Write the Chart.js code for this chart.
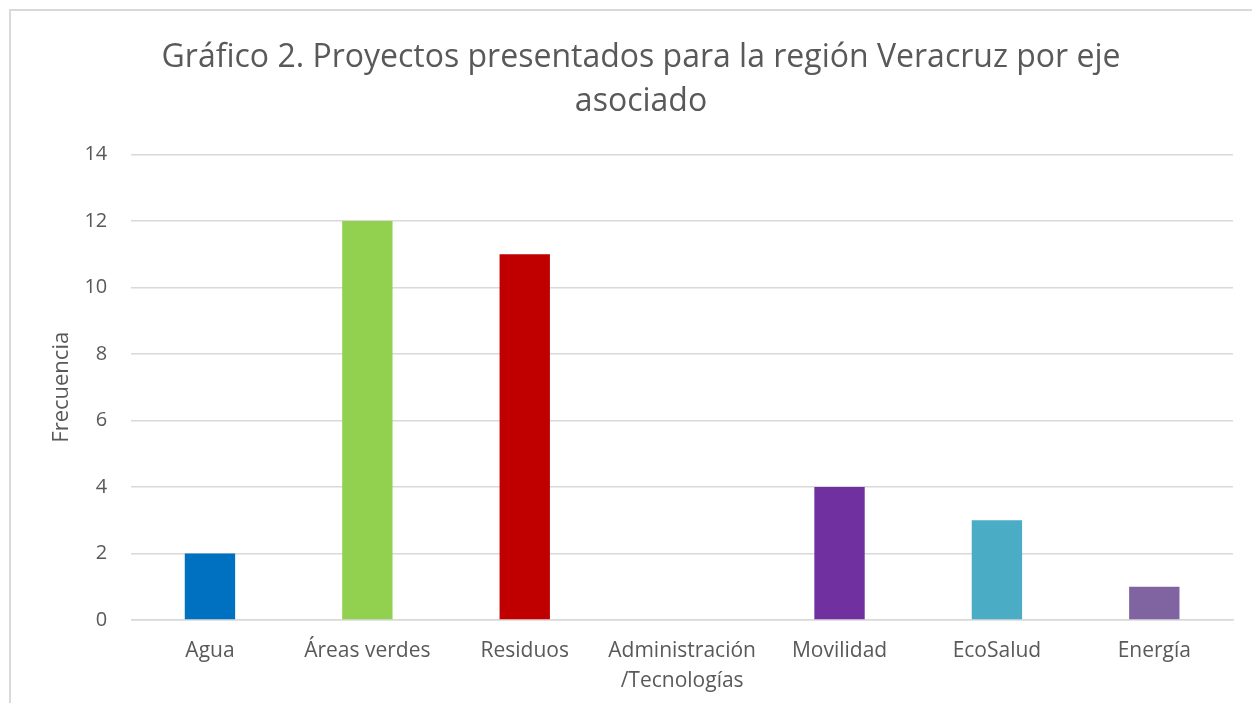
<!DOCTYPE html>
<html>
<head>
<meta charset="utf-8">
<script src="https://cdn.jsdelivr.net/npm/chart.js@4"></script>
<style>
  html, body { margin: 0; padding: 0; background: #fff; overflow: hidden; }
  #box {
    position: absolute; left: 9px; top: 9px; width: 1243px; height: 720px;
    border-left: 2px solid #d9d9d9; border-top: 2px solid #d9d9d9;
  }
</style>
</head>
<body>
<div id="box"><canvas id="chart"></canvas></div>
<script>
/* Gráfico 2 — proyectos por eje, región Veracruz */
var titleLines = ['Gráfico 2. Proyectos presentados para la región Veracruz por eje', 'asociado'];
var categories = ['Agua', 'Áreas verdes', 'Residuos', ['Administración', '/Tecnologías'], 'Movilidad', 'EcoSalud', 'Energía'];
var frecuencia = [2, 12, 11, 0, 4, 3, 1];
var barColors  = ['#0070C0', '#92D050', '#C00000', '#FFC000', '#7030A0', '#4BACC6', '#8064A2'];
var yTicks     = [0, 2, 4, 6, 8, 10, 12, 14];

var grey = '#595959';
Chart.defaults.font.family = '"Open Sans", sans-serif';
Chart.defaults.color = grey;

new Chart(document.getElementById('chart').getContext('2d'), {
    type: 'bar',
    data: {
        labels: categories,
        datasets: [{
            label: 'Frecuencia',
            data: frecuencia,
            backgroundColor: barColors,
            categoryPercentage: 1,
            barPercentage: 0.32
        }]
    },
    options: {
        responsive: true,
        maintainAspectRatio: false,
        animation: false,
        layout: { padding: { left: 38, right: 21, top: 24, bottom: 19 } },
        plugins: {
            legend: { display: false },
            tooltip: { enabled: false },
            title: {
                display: true,
                text: titleLines,
                color: grey,
                font: { size: 32, weight: 'normal', lineHeight: 1.4 },
                padding: { top: 0, bottom: 30 }
            }
        },
        scales: {
            y: {
                min: 0, max: 14,
                afterBuildTicks: function(axis) {
                    axis.ticks = yTicks.map(function(v) { return { value: v }; });
                },
                ticks: { font: { size: 20 }, color: grey, padding: 24 },
                grid: { color: '#d9d9d9', lineWidth: 1.5, drawTicks: false },
                border: { display: false },
                title: { display: true, text: 'Frecuencia', color: grey, font: { size: 22 }, padding: { top: 0, bottom: -15 } }
            },
            x: {
                ticks: { font: { size: 21, lineHeight: 1.43 }, color: grey, padding: 16, maxRotation: 0, autoSkip: false },
                grid: { display: false, drawTicks: false },
                border: { color: '#d9d9d9', width: 1.5 }
            }
        }
    }
});
</script>
</body>
</html>
